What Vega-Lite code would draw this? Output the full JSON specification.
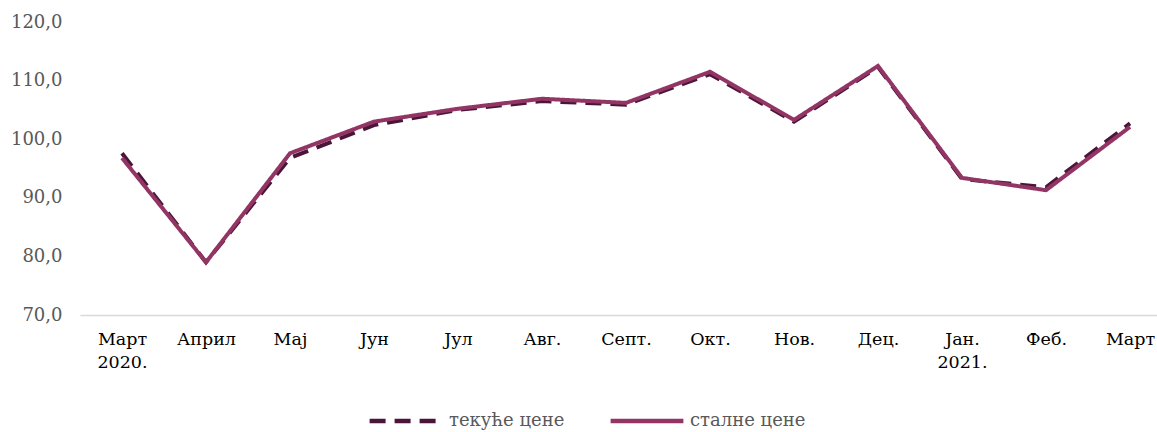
{
  "$schema": "https://vega.github.io/schema/vega-lite/v6.json",
  "autosize": {"type": "none"},
  "padding": {"left": 80, "top": 22, "right": 0, "bottom": 117},
  "width": 1092,
  "height": 293,
  "background": "white",
  "config": {
    "view": {"stroke": null},
    "font": "DejaVu Serif"
  },
  "data": {
    "values": [
      {"month": "Март|2020.", "tekuce": 97.6, "stalne": 96.8},
      {"month": "Април", "tekuce": 79.0, "stalne": 79.0},
      {"month": "Мај", "tekuce": 96.8, "stalne": 97.6},
      {"month": "Јун", "tekuce": 102.4, "stalne": 103.0},
      {"month": "Јул", "tekuce": 105.0, "stalne": 105.2},
      {"month": "Авг.", "tekuce": 106.5, "stalne": 106.9},
      {"month": "Септ.", "tekuce": 105.9, "stalne": 106.2},
      {"month": "Окт.", "tekuce": 111.1, "stalne": 111.5},
      {"month": "Нов.", "tekuce": 103.0, "stalne": 103.3},
      {"month": "Дец.", "tekuce": 112.3, "stalne": 112.5},
      {"month": "Јан.|2021.", "tekuce": 93.2, "stalne": 93.4},
      {"month": "Феб.", "tekuce": 91.8, "stalne": 91.3},
      {"month": "Март", "tekuce": 102.7, "stalne": 102.1}
    ]
  },
  "encoding": {
    "x": {
      "field": "month",
      "type": "ordinal",
      "sort": null,
      "scale": {"type": "point", "padding": 0.5},
      "axis": {
        "title": null,
        "labelAngle": 0,
        "labelExpr": "split(datum.label, '|')",
        "labelFont": "DejaVu Serif",
        "labelFontSize": 17.5,
        "labelColor": "#000000",
        "labelPadding": 15,
        "labelLineHeight": 23,
        "ticks": false,
        "domainColor": "#d9d9d9",
        "domainWidth": 1.5,
        "grid": false
      }
    }
  },
  "layer": [
    {
      "mark": {"type": "line", "strokeWidth": 4, "strokeCap": "butt", "clip": false},
      "encoding": {
        "y": {
          "field": "tekuce",
          "type": "quantitative",
          "scale": {"domain": [70, 120], "nice": false, "zero": false},
          "axis": {
            "title": null,
            "values": [70, 80, 90, 100, 110, 120],
            "labelExpr": "replace(format(datum.value, '.1f'), '.', ',')",
            "labelFont": "DejaVu Serif",
            "labelFontSize": 18,
            "labelColor": "#595959",
            "labelPadding": 18,
            "ticks": false,
            "domain": false,
            "grid": false
          }
        },
        "color": {
          "datum": "текуће цене",
          "type": "nominal",
          "scale": {"domain": ["текуће цене", "сталне цене"], "range": ["#4a1538", "#923564"]},
          "legend": {
            "title": null,
            "orient": "none",
            "legendX": 287,
            "legendY": 360,
            "direction": "horizontal",
            "symbolType": "stroke",
            "symbolSize": 5300,
            "symbolStrokeWidth": 4.5,
            "labelFont": "DejaVu Serif",
            "labelFontSize": 18,
            "labelColor": "#595959",
            "columnPadding": 36,
            "labelOffset": 4
          }
        },
        "strokeDash": {
          "datum": "текуће цене",
          "type": "nominal",
          "scale": {"domain": ["текуће цене", "сталне цене"], "range": [[16, 9], [1, 0]]},
          "legend": null
        }
      }
    },
    {
      "mark": {"type": "line", "strokeWidth": 4, "clip": false},
      "encoding": {
        "y": {"field": "stalne", "type": "quantitative"},
        "color": {"datum": "сталне цене", "type": "nominal"},
        "strokeDash": {"datum": "сталне цене", "type": "nominal", "legend": null}
      }
    }
  ]
}
